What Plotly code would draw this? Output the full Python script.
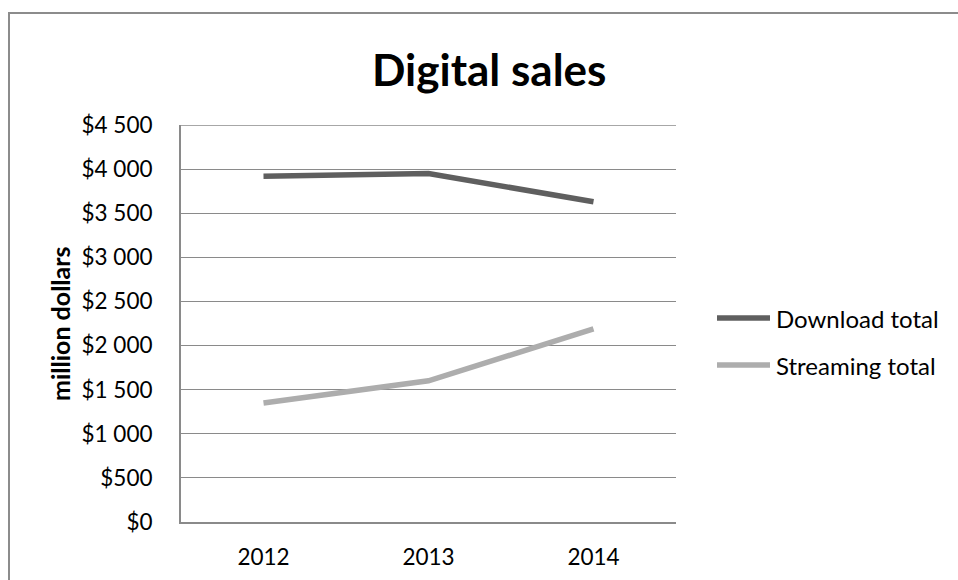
import plotly.graph_objects as go

# Digital sales by year, in million dollars
years = ["2012", "2013", "2014"]
download_total = [3920, 3950, 3630]
streaming_total = [1350, 1600, 2190]
series_names = ["Download total", "Streaming total"]
series_colors = ["#5f5f5f", "#adadad"]

y_tick_values = [0, 500, 1000, 1500, 2000, 2500, 3000, 3500, 4000, 4500]
y_tick_labels = ["$0", "$500", "$1 000", "$1 500", "$2 000",
                 "$2 500", "$3 000", "$3 500", "$4 000", "$4 500"]

W, H = 958, 580
ML, MR, MT, MB = 181, 282, 125, 58
PW, PH = W - ML - MR, H - MT - MB

FONT = "Lato"
GRID = "#8a8a8a"


def px_x(x):
    return (x - ML) / PW


def px_y(y):
    return (H - MB - y) / PH


fig = go.Figure()
for name, values, color in zip(series_names, [download_total, streaming_total], series_colors):
    fig.add_trace(go.Scatter(
        x=years, y=values, name=name, mode="lines",
        line=dict(color=color, width=5.5),
        showlegend=False,
    ))

# top gridline sits on the edge of the plot area, so draw it explicitly
fig.add_shape(type="line", xref="paper", yref="y", layer="below",
              x0=0, x1=1, y0=y_tick_values[-1], y1=y_tick_values[-1],
              line=dict(color=GRID, width=1.3))

# legend drawn at the right of the plot area
legend_rows = [318, 365]
for name, color, row in zip(series_names, series_colors, legend_rows):
    fig.add_shape(type="line", xref="paper", yref="paper",
                  x0=px_x(717), x1=px_x(770), y0=px_y(row), y1=px_y(row),
                  line=dict(color=color, width=5.5))
    fig.add_annotation(xref="paper", yref="paper", x=px_x(774), y=px_y(row),
                       text=name, showarrow=False, xanchor="left", yanchor="middle",
                       font=dict(family=FONT, size=24, color="#000000"))

# title
fig.add_annotation(xref="paper", yref="paper", x=px_x(489), y=px_y(69),
                   text="<b>Digital sales</b>", showarrow=False,
                   xanchor="center", yanchor="middle",
                   font=dict(family=FONT, size=44, color="#000000"))

# y-axis title
fig.add_annotation(xref="paper", yref="paper", x=px_x(60), y=px_y(324),
                   text="<b>million dollars</b>", showarrow=False, textangle=-90,
                   xanchor="center", yanchor="middle",
                   font=dict(family=FONT, size=25, color="#000000"))

# chart frame
fig.add_shape(type="rect", xref="paper", yref="paper", layer="below",
              x0=px_x(9), x1=px_x(W + 10), y0=px_y(H + 10), y1=px_y(13),
              line=dict(color="#8c8c8c", width=2), fillcolor="rgba(0,0,0,0)")

fig.update_layout(
    width=W, height=H,
    margin=dict(l=ML, r=MR, t=MT, b=MB, pad=0, autoexpand=False),
    paper_bgcolor="white", plot_bgcolor="white",
    font=dict(family=FONT, size=22.5, color="#000000"),
)
fig.update_xaxes(
    type="category", range=[-0.5, 2.5], automargin=False,
    showgrid=False, showline=True, linecolor=GRID, linewidth=2,
    ticks="", ticklabelstandoff=14,
    tickfont=dict(family=FONT, size=22.5, color="#000000"),
)
fig.update_yaxes(
    range=[0, 4500], tickvals=y_tick_values, ticktext=y_tick_labels,
    automargin=False,
    showgrid=True, gridcolor=GRID, gridwidth=1.3,
    showline=True, linecolor=GRID, linewidth=2, zeroline=False,
    ticks="", ticklabelstandoff=22,
    tickfont=dict(family=FONT, size=22.5, color="#000000"),
)

fig.write_html("out.html")
